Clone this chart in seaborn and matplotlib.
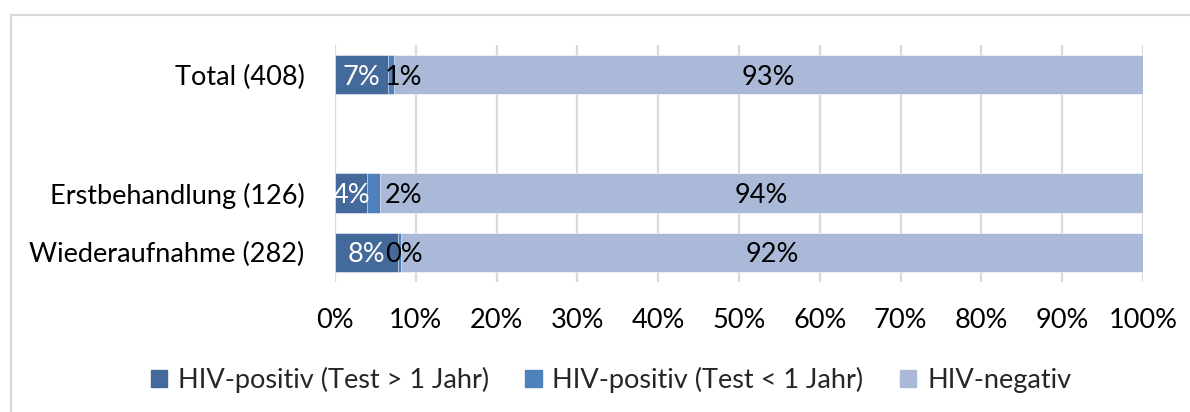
import pandas as pd
import matplotlib.pyplot as plt
import matplotlib.lines as mlines
import matplotlib.patches as mpatches
import seaborn as sns

# counts per group (share computed below)
groups = ["Total (408)", "", "Erstbehandlung (126)", "Wiederaufnahme (282)"]
pos_old = [27, None, 5, 22]      # HIV-positiv (Test > 1 Jahr)
pos_new = [3, None, 2, 1]        # HIV-positiv (Test < 1 Jahr)
negative = [378, None, 119, 259] # HIV-negativ
series = ["HIV-positiv (Test > 1 Jahr)", "HIV-positiv (Test < 1 Jahr)", "HIV-negativ"]
colors = ["#44699b", "#4f81bd", "#aab9d7"]
xticks = [0, 10, 20, 30, 40, 50, 60, 70, 80, 90, 100]

FS = 19.5

sns.set_theme(style="white")
plt.rcParams["font.family"] = ["Lato", "DejaVu Sans"]

rows = []
for g, a, b, c in zip(groups, pos_old, pos_new, negative):
    if a is None:
        continue
    tot = a + b + c
    rows.append({"group": g, "p1": a / tot * 100, "p2": b / tot * 100, "p3": c / tot * 100})
df = pd.DataFrame(rows)
df["c1"] = df["p1"]
df["c2"] = df["p1"] + df["p2"]
df["c3"] = df["c2"] + df["p3"]

fig = plt.figure(figsize=(11.9, 4.12), dpi=100)
ax = fig.add_axes([335 / 1190, 1 - 282 / 412, 808 / 1190, 237 / 412])

# stacked bars drawn back-to-front from cumulative values
for col, color in zip(["c3", "c2", "c1"], colors[::-1]):
    sns.barplot(data=df, y="group", x=col, order=groups, color=color, width=0.67,
                orient="h", saturation=1, edgecolor="white", linewidth=0.4, ax=ax, zorder=3)

ax.set_xlim(0, 100)
ax.set_ylim(3.5, -0.5)
ax.set_xticks(xticks)
ax.set_xticklabels([f"{t}%" for t in xticks])
ax.set_xlabel("")
ax.set_ylabel("")
ax.tick_params(axis="both", length=0, labelsize=FS, colors="black")
ax.tick_params(axis="y", pad=22)
ax.tick_params(axis="x", pad=19)
ax.grid(axis="x", color="#d9d9d9", linewidth=1.6, zorder=0)
ax.set_axisbelow(True)
for s in ax.spines.values():
    s.set_visible(False)

# data labels
for _, r in df.iterrows():
    y = groups.index(r["group"])
    ax.text(r["p1"] / 2, y, f"{r['p1']:.0f}%", ha="center", va="center_baseline",
            color="white", fontsize=FS, zorder=5)
    mid = max(r["c1"] + r["p2"] / 2, 8.5)
    ax.text(mid, y, f"{r['p2']:.0f}%", ha="center", va="center_baseline",
            color="black", fontsize=FS, zorder=5)
    ax.text(r["c2"] + r["p3"] / 2, y, f"{r['p3']:.0f}%", ha="center", va="center_baseline",
            color="black", fontsize=FS, zorder=5)

handles = [mpatches.Patch(color=c, label=s) for s, c in zip(series, colors)]
fig.legend(handles=handles, loc="center", bbox_to_anchor=(611 / 1190, 1 - 380 / 412),
           ncol=3, frameon=False, fontsize=FS, handlelength=0.6, handleheight=0.6,
           handletextpad=0.4, columnspacing=1.35)

# chart frame (only top and left visible in the crop)
fig.add_artist(mlines.Line2D([11 / 1190, 1], [1 - 15 / 412] * 2, color="#d9d9d9", lw=1.5))
fig.add_artist(mlines.Line2D([11 / 1190] * 2, [0, 1 - 15 / 412], color="#d9d9d9", lw=1.5))

fig.savefig("out.png", dpi=100)
